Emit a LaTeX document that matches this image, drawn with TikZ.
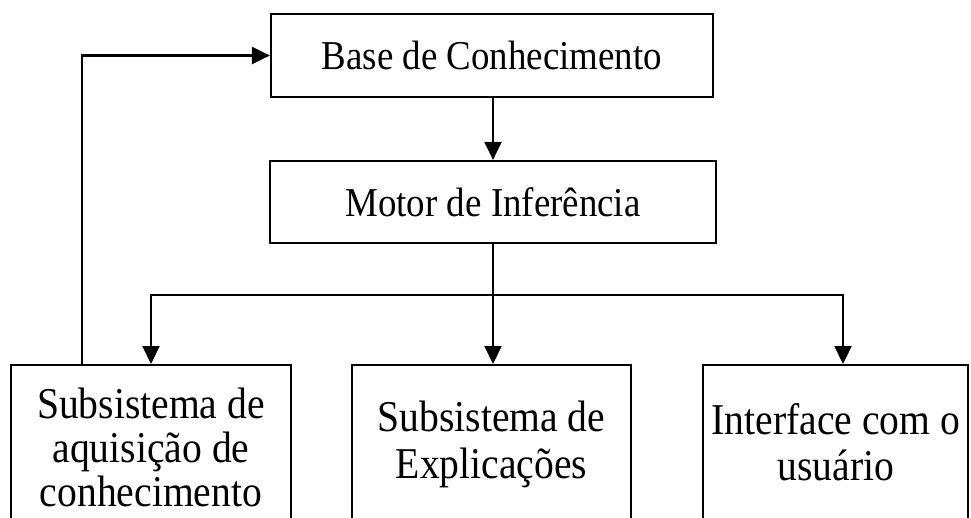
\documentclass[tikz,border=0pt]{standalone}
\usepackage{fontspec}
\setmainfont{Liberation Serif}[FakeStretch=0.9]
\usetikzlibrary{arrows.meta}
\begin{document}
\begin{tikzpicture}[x=1pt,y=-1pt,
  box/.style={draw, line width=2.2pt, inner sep=0pt},
  lbl/.style={align=center, font=\fontsize{41}{44}\selectfont, inner sep=0pt},
  blbl/.style={align=center, font=\fontsize{44}{44}\selectfont, inner sep=0pt},
  conn/.style={line width=2.2pt, -{Triangle[length=18pt,width=17pt]}},
  plain/.style={line width=2.2pt}]
\path[use as bounding box] (0,0) rectangle (971,517);
\clip (0,0) rectangle (971,517);
\fill[white] (0,0) rectangle (971,517);
% boxes
\node[box, lbl, minimum width=442pt, minimum height=83pt] (kb) at (492,55.5) {Base de Conhecimento};
\node[box, lbl, minimum width=446pt, minimum height=82pt] (mi) at (493,202) {Motor de Inferência};
\node[box, minimum width=280pt, minimum height=200pt, anchor=north] (aq) at (151,364) {};
\node[box, minimum width=279pt, minimum height=200pt, anchor=north] (ex) at (491.5,364) {};
\node[box, minimum width=265pt, minimum height=200pt, anchor=north] (ui) at (835.5,364) {};
% texts of bottom boxes
\node[blbl] (aqt) at (151,447) {Subsistema de\\aquisição de\\conhecimento};
\node[blbl, font=\fontsize{44}{47}\selectfont] (ext) at (491.5,444) {Subsistema de\\Explicações};
\node[blbl, font=\fontsize{44}{46}\selectfont] (uit) at (836,442) {Interface com o\\usuário};
% connectors
\coordinate (split) at (493,295);
\coordinate (fb) at (82,364);
\coordinate (uiin) at (843,364);
\draw[conn] (mi.north |- kb.south) -- (mi.north);
\draw[plain] (mi.south) -- (split);
\draw[conn] (split) -| (aq.north);
\draw[conn] (split) -- (split |- ex.north);
\draw[conn] (split) -| (uiin);
\draw[conn] (fb) |- (kb.west);
\end{tikzpicture}
\end{document}
